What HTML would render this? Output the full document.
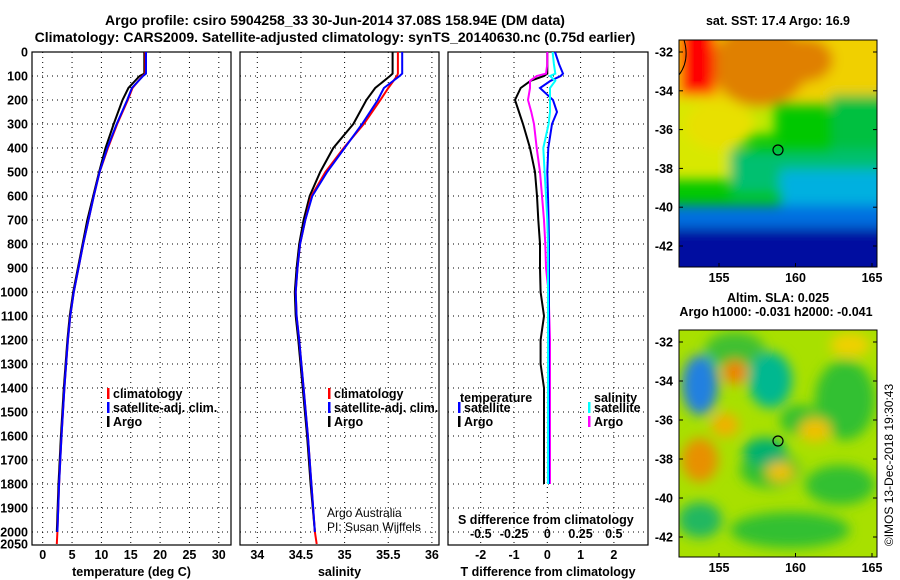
<!DOCTYPE html>
<html><head><meta charset="utf-8"><style>
body{margin:0;background:#fff}
svg{display:block;font-family:"Liberation Sans",sans-serif}
.b{font-weight:bold;font-size:12.5px}
</style></head><body>
<svg id="c" width="900" height="580" viewBox="0 0 900 580">
<defs>
<filter id="bl" filterUnits="userSpaceOnUse" x="600" y="0" width="300" height="600"><feGaussianBlur stdDeviation="6"/></filter>
<clipPath id="m1"><rect x="679" y="40" width="198" height="227"/></clipPath>
<clipPath id="m2"><rect x="679" y="330" width="198" height="227"/></clipPath>
</defs>
<text x="335" y="25" text-anchor="middle" class="b" style="font-size:14px">Argo profile: csiro 5904258_33 30-Jun-2014 37.08S 158.94E (DM data)</text>
<text x="335" y="42" text-anchor="middle" class="b" style="font-size:14px">Climatology: CARS2009. Satellite-adjusted climatology: synTS_20140630.nc (0.75d earlier)</text>
<g id="p1"></g>
<g id="p2"></g>
<g id="p3"></g>

<!-- Top map: SST -->
<g>
<text x="778" y="25" text-anchor="middle" class="b">sat. SST: 17.4 Argo: 16.9</text>
<g clip-path="url(#m1)">
<rect x="679" y="40" width="198" height="227" fill="#00c800"/>
<g filter="url(#bl)">
<rect x="660" y="20" width="240" height="85" fill="#f0d000"/>
<rect x="660" y="100" width="75" height="80" fill="#d8e800"/>
<rect x="735" y="105" width="40" height="30" fill="#c0e800"/>
<ellipse cx="760" cy="65" rx="48" ry="42" fill="#e08000"/>
<ellipse cx="805" cy="60" rx="28" ry="22" fill="#e08000"/>
<rect x="680" y="20" width="35" height="75" fill="#ff0000"/>
<ellipse cx="720" cy="125" rx="35" ry="25" fill="#e8e000"/>
<rect x="830" y="95" width="60" height="60" fill="#00c040"/>
<rect x="730" y="150" width="170" height="45" fill="#00c070"/>
<rect x="780" y="170" width="120" height="40" fill="#00b0e0"/>
<rect x="660" y="205" width="240" height="28" fill="#0070e0"/>
<rect x="660" y="228" width="240" height="60" fill="#0010a0"/>
</g>
<path d="M684,40 Q690,60 679,75" fill="none" stroke="#000" stroke-width="1"/>
</g>
<rect x="679" y="40" width="198" height="227" fill="none" stroke="#000"/>
<circle cx="778" cy="150" r="5" fill="none" stroke="#000" stroke-width="1.2"/>
<g id="ax1"></g>
</g>

<!-- Bottom map: SLA -->
<g>
<text x="778" y="302" text-anchor="middle" class="b">Altim. SLA: 0.025</text>
<text x="776" y="316" text-anchor="middle" class="b">Argo h1000: -0.031 h2000: -0.041</text>
<g clip-path="url(#m2)">
<rect x="679" y="330" width="198" height="227" fill="#a8e000"/>
<g filter="url(#bl)">
<ellipse cx="735" cy="350" rx="30" ry="18" fill="#40c030"/>
<ellipse cx="845" cy="400" rx="30" ry="40" fill="#30c030"/>
<ellipse cx="800" cy="420" rx="20" ry="15" fill="#30c030"/>
<ellipse cx="770" cy="470" rx="30" ry="18" fill="#30c030"/>
<ellipse cx="840" cy="485" rx="35" ry="20" fill="#30c030"/>
<ellipse cx="790" cy="530" rx="60" ry="18" fill="#30c030"/>
<ellipse cx="700" cy="520" rx="22" ry="18" fill="#20b860"/>
<ellipse cx="700" cy="385" rx="18" ry="30" fill="#2080e0"/>
<ellipse cx="770" cy="380" rx="22" ry="28" fill="#00b890"/>
<ellipse cx="735" cy="372" rx="12" ry="12" fill="#f08000"/>
<ellipse cx="765" cy="452" rx="22" ry="14" fill="#00b070"/>
<ellipse cx="700" cy="460" rx="18" ry="22" fill="#e89000"/>
<ellipse cx="725" cy="425" rx="14" ry="12" fill="#f0b000"/>
<ellipse cx="815" cy="430" rx="16" ry="12" fill="#f0c000"/>
<ellipse cx="780" cy="472" rx="14" ry="10" fill="#f0c000"/>
<ellipse cx="850" cy="345" rx="20" ry="12" fill="#f0d000"/>
</g>
</g>
<rect x="679" y="330" width="198" height="227" fill="none" stroke="#000"/>
<circle cx="778" cy="441" r="5" fill="none" stroke="#000" stroke-width="1.2"/>
<g id="ax2"></g>
</g>
<text transform="translate(893,465) rotate(-90)" text-anchor="middle" style="font-size:12px">©IMOS 13-Dec-2018 19:30:43</text>
</svg>
<script>
// ---- data ----
const depth   = [0,90,100,150,200,300,400,500,600,700,800,900,1000,1100,1200,1400,1600,1800,2000,2050];
const tClim   = [17.5,17.5,17.0,15.3,14.5,12.7,11.1,9.7,8.7,7.8,6.9,6.1,5.3,4.7,4.3,3.7,3.2,2.8,2.5,2.4];
const tSat    = [17.6,17.6,17.1,15.2,14.4,12.6,11.0,9.7,8.7,7.8,6.9,6.1,5.3,4.7,4.3,3.7,3.2,2.8,2.5,2.5];
const tArgo   = [17.3,17.3,16.5,14.6,13.6,12.1,10.7,9.6,8.6,7.6,6.8,6.0,5.2,4.6,4.2,3.6,3.1,2.7,2.4,2.4];
const sClim   = [35.61,35.61,35.6,35.5,35.41,35.22,34.99,34.78,34.62,34.55,34.49,34.46,34.44,34.45,34.48,34.53,34.58,34.62,34.66,34.68];
const sSat    = [35.66,35.66,35.63,35.45,35.38,35.2,35.0,34.8,34.63,34.55,34.49,34.46,34.44,34.45,34.48,34.53,34.58,34.62,34.66,34.66];
const sArgo   = [35.55,35.55,35.52,35.35,35.25,35.1,34.87,34.72,34.6,34.53,34.48,34.45,34.43,34.44,34.47,34.52,34.57,34.61,34.66,34.66];
const dDepth  = [0,50,90,100,120,150,200,250,300,400,500,600,700,800,900,1000,1100,1200,1300,1400,1600,1800];
const dtArgo  = [0,0,0,-0.1,-0.5,-0.8,-0.97,-0.85,-0.73,-0.52,-0.37,-0.31,-0.27,-0.22,-0.22,-0.2,-0.1,-0.2,-0.2,-0.1,-0.1,-0.1];
const dtSat   = [0.23,0.35,0.47,0.4,0.1,-0.22,0.17,0.29,0.14,0.03,0,0.02,0.04,0.05,0.05,0.05,0.05,0.05,0.05,0.05,0.05,0.05];
const dsArgo  = [0,0,-0.01,-0.08,-0.13,-0.13,-0.145,-0.12,-0.1,-0.08,-0.055,-0.04,-0.025,-0.015,-0.01,0.01,0.015,0.02,0.02,0.02,0.02,0.02];
const dsSat   = [0.04,0.05,0.06,0.02,0.06,0.02,0.02,0.02,0.01,-0.03,-0.02,-0.01,0,0.005,0.005,0.005,0.005,0.005,0.005,0.005,0.005,0.005];
const depthTicks = [0,100,200,300,400,500,600,700,800,900,1000,1100,1200,1300,1400,1500,1600,1700,1800,1900,2000,2050];
const tTicks  = [0,5,10,15,20,25,30];
const sTicks  = [34,34.5,35,35.5,36];
const sTickLbl= ["34","34.5","35","35.5","36"];
const dtTicks = [-2,-1,0,1,2];
const dsTicks = [-0.5,-0.25,0,0.25,0.5];
const dsTickLbl = ["-0.5","-0.25","0","0.25","0.5"];
const lonTicks = [155,160,165];
const latTicks = [-32,-34,-36,-38,-40,-42];

const NS="http://www.w3.org/2000/svg";
function mk(tag,attrs,parent,txt){const e=document.createElementNS(NS,tag);for(const k in attrs)e.setAttribute(k,attrs[k]);if(txt!==undefined)e.textContent=txt;parent.appendChild(e);return e;}
const Y0=52, Y1=545;
const yD = d => Y0 + d*0.24;
const xT = v => 42.7 + v*5.87;
const xS = v => 257.3 + (v-34)*87.3;
const xDT = v => 547.3 + v*33.3;
const xDS = v => 547.3 + v*133;

function panel(g,x0,x1,xs,ticks,lbls,title,showDepth){
  for(const d of depthTicks){ if(d===0||d===2050) continue;
    const l=mk('line',{x1:x0,x2:x1,y1:yD(d),y2:yD(d),stroke:'#000','stroke-dasharray':'1,4'},g);
     
  }
  ticks.forEach((t,i)=>{
    const l=mk('line',{x1:xs(t),x2:xs(t),y1:Y0,y2:Y1,stroke:'#000','stroke-dasharray':'1,4'},g);
     
    const tx=mk('text',{x:xs(t),y:559,'text-anchor':'middle',class:'b'},g,lbls[i]);
     
  });
  const r=mk('rect',{x:x0,y:Y0,width:x1-x0,height:Y1-Y0,fill:'none',stroke:'#000','stroke-width':1.2},g);
   
  const tt=mk('text',{x:(x0+x1)/2,y:576,'text-anchor':'middle',class:'b'},g,title);
   
  if(showDepth) for(const d of depthTicks){
    const tx=mk('text',{x:28,y:yD(d)+4.5,'text-anchor':'end',class:'b'},g,String(d));
     
  }
}
function line(g,dep,vals,xs,col,w,name,maxD){
  let p='';dep.forEach((d,i)=>{ if(maxD!==undefined&&d>maxD) return; p+=(p?'L':'M')+xs(vals[i]).toFixed(1)+','+yD(d).toFixed(1);});
  const e=mk('path',{d:p,fill:'none',stroke:col,'stroke-width':w},g);
   
}
function legend(g,x,y,items){
  items.forEach((it,i)=>{
    const r=mk('rect',{x:x,y:y+i*14-10,width:2.5,height:11,fill:it[0]},g);
     
    const t=mk('text',{x:x+6,y:y+i*14,class:'b'},g,it[1]);
     
  });
}
const p1=document.getElementById('p1'),p2=document.getElementById('p2'),p3=document.getElementById('p3');
panel(p1,32,231,xT,tTicks,tTicks.map(String),'temperature (deg C)',true);
line(p1,depth,tArgo,xT,'#000',2,'argo-temperature-line',2000);
line(p1,depth,tClim,xT,'#ff0000',2,'climatology-temperature-line');
line(p1,depth,tSat,xT,'#0000ff',2,'satellite-temperature-line',2000);
legend(p1,107,398,[['#ff0000','climatology'],['#0000ff','satellite-adj. clim.'],['#000','Argo']]);

panel(p2,240,439,xS,sTicks,sTickLbl,'salinity',false);
line(p2,depth,sArgo,xS,'#000',2,'argo-salinity-line',2000);
line(p2,depth,sClim,xS,'#ff0000',2,'climatology-salinity-line');
line(p2,depth,sSat,xS,'#0000ff',2,'satellite-salinity-line',2000);
legend(p2,328,398,[['#ff0000','climatology'],['#0000ff','satellite-adj. clim.'],['#000','Argo']]);
let a=mk('text',{x:327,y:517,style:'font-size:12px'},p2,'Argo Australia');
a=mk('text',{x:327,y:531,style:'font-size:12px'},p2,'PI: Susan Wijffels');

panel(p3,448,648,xDT,dtTicks,dtTicks.map(String),'T difference from climatology',false);
line(p3,dDepth,dtArgo,xDT,'#000',2,'argo-t-diff-line');
line(p3,dDepth,dsArgo,xDS,'#ff00ff',2,'argo-s-diff-line');
line(p3,dDepth,dtSat,xDT,'#0000ff',2,'satellite-t-diff-line');
line(p3,dDepth,dsSat,xDS,'#00ffff',2,'satellite-s-diff-line');
legend(p3,458,412,[['#0000ff','satellite'],['#000','Argo']]);
legend(p3,588,412,[['#00ffff','satellite'],['#ff00ff','Argo']]);
a=mk('text',{x:460,y:402,class:'b'},p3,'temperature');
a=mk('text',{x:594,y:402,class:'b'},p3,'salinity');
a=mk('text',{x:458,y:524,class:'b'},p3,'S difference from climatology');
dsTicks.forEach((t,i)=>{const e=mk('text',{x:xDS(t),y:538,'text-anchor':'middle',class:'b'},p3,dsTickLbl[i]);});

function mapAxes(id,latY,bottom){
  const g=document.getElementById(id);
  const lonX=v=>719+(v-155)*15.3;
  lonTicks.forEach(v=>{mk('line',{x1:lonX(v),x2:lonX(v),y1:bottom,y2:bottom-4,stroke:'#000'},g);
    const t=mk('text',{x:lonX(v),y:bottom+15,'text-anchor':'middle',class:'b'},g,String(v));});
  latTicks.forEach(v=>{const y=latY(v);mk('line',{x1:679,x2:683,y1:y,y2:y,stroke:'#000'},g);mk('line',{x1:877,x2:873,y1:y,y2:y,stroke:'#000'},g);
    const t=mk('text',{x:673,y:y+4.5,'text-anchor':'end',class:'b'},g,String(v));});
}
mapAxes('ax1',v=>52+(-32-v)*19.4,267);
mapAxes('ax2',v=>342+(-32-v)*19.5,557);
</script>
</body></html>
